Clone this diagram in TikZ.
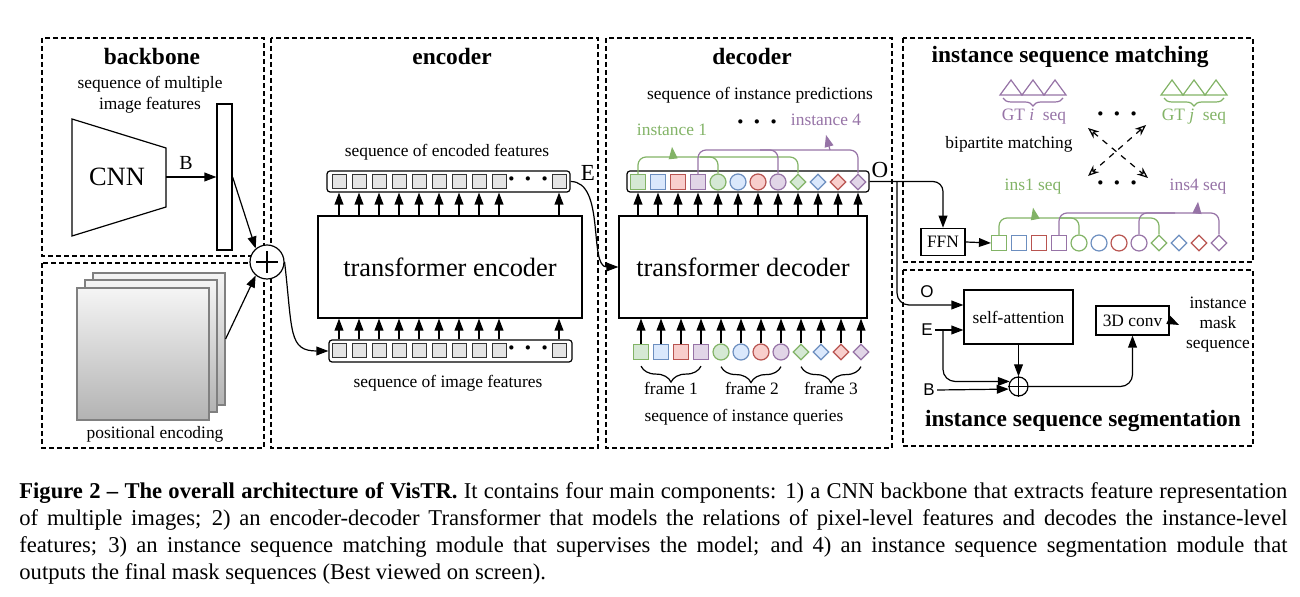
\documentclass[tikz,border=0pt]{standalone}
\usepackage{fontspec}
\setmainfont{Liberation Serif}
\setsansfont{Liberation Sans}
\usepackage{xcolor}
\usepackage{tikz}
\usetikzlibrary{shapes.geometric, arrows.meta, decorations.pathreplacing}
\definecolor{insgreen}{HTML}{82B366}
\definecolor{insgreenfill}{HTML}{D5E8D4}
\definecolor{insblue}{HTML}{6C8EBF}
\definecolor{insbluefill}{HTML}{DAE8FC}
\definecolor{insred}{HTML}{B85450}
\definecolor{insredfill}{HTML}{F8CECC}
\definecolor{inspurple}{HTML}{9673A6}
\definecolor{inspurplefill}{HTML}{E1D5E7}
\definecolor{featgray}{HTML}{E4E4E4}
\newcommand{\threedots}{\textbf{·\hspace{4pt}·\hspace{4pt}·}}

\begin{document}
\begin{tikzpicture}[
  x=0.5pt, y=-0.5pt,
  lbl/.style={font=\fontsize{8.7}{10.5}\selectfont},
  head/.style={font=\fontsize{11.7}{14}\selectfont\bfseries},
  big/.style={font=\fontsize{13.2}{15}\selectfont},
  sans/.style={font=\sffamily\fontsize{8.5}{10}\selectfont, inner sep=1pt},
  dots/.style={inner sep=0pt, font=\fontsize{13}{14}\selectfont},
  module/.style={draw, dash pattern=on 2.5pt off 1.5pt, line width=0.6pt},
  block/.style={draw, line width=0.6pt, inner sep=0pt, align=center},
  arr/.style={-{Triangle[length=6pt, width=4.4pt]}, line width=0.6pt},
  match/.style={dashed, line width=0.6pt, {Stealth[open, length=5.5pt, width=4.5pt]}-{Stealth[open, length=5.5pt, width=4.5pt]}},
  seqbar/.style={draw, rounded corners=1.5pt, line width=0.6pt, inner sep=0pt},
  feat/.style={draw=black!80, fill=featgray, minimum size=7pt, inner sep=0pt, line width=0.5pt},
  pesq/.style={draw=gray, top color=gray!8, bottom color=gray!60, minimum size=66pt, inner sep=0pt, line width=0.6pt},
  qsq/.style={rectangle, minimum size=7.5pt, inner sep=0pt, line width=0.6pt},
  qci/.style={circle, minimum size=8pt, inner sep=0pt, line width=0.6pt},
  qdi/.style={diamond, minimum size=8pt, inner sep=0pt, line width=0.6pt},
  fgr/.style={draw=insgreen, fill=insgreenfill},
  fbl/.style={draw=insblue, fill=insbluefill},
  fre/.style={draw=insred, fill=insredfill},
  fpu/.style={draw=inspurple, fill=inspurplefill},
  ogr/.style={draw=insgreen},
  obl/.style={draw=insblue},
  ore/.style={draw=insred},
  opu/.style={draw=inspurple},
  gline/.style={insgreen, line width=0.6pt, rounded corners=4pt},
  pline/.style={inspurple, line width=0.6pt, rounded corners=4pt},
]
  \useasboundingbox (0,0) rectangle (1300,597);

  % Modules
  \draw[module] (42,38) rectangle (264,256);
  \draw[module] (42,263) rectangle (264,448);
  \draw[module] (271,38) rectangle (598,448);
  \draw[module] (606,38) rectangle (892,448);
  \draw[module] (903,38) rectangle (1253,262);
  \draw[module] (903,270) rectangle (1253,446);

  % Backbone
  \node[head] (bbt) at (152,57) {backbone};
  \node[lbl, align=center] (bbf) at (150,95) {sequence of multiple\\image features};
  \draw[line width=0.6pt] (72,119) -- (166,148) -- (166,207) -- (72,236) -- cycle;
  \node[big] (cnn) at (117,177) {CNN};
  \coordinate (cnnout) at (166,177);
  \node[block, minimum width=7.5pt, minimum height=73pt] (fbar) at (224.5,177) {};
  \draw[arr] (cnnout) -- node[pos=0.4, above=3.5pt, inner sep=0pt, font=\fontsize{10}{12}\selectfont] {B} (fbar.west);

  % Positional encoding
  \node[pesq] (pe3) at (159,339) {};
  \node[pesq] (pe2) at (151,346) {};
  \node[pesq] (pe1) at (143,354) {};
  \node[lbl] (pet) at (155,434) {positional encoding};
  \node[draw, circle, fill=white, minimum size=17pt, inner sep=0pt, line width=0.6pt] (plus) at (267,262) {};
  \draw[line width=0.6pt] ([xshift=-5.5pt]plus.center) -- ([xshift=5.5pt]plus.center)
    ([yshift=-5.5pt]plus.center) -- ([yshift=5.5pt]plus.center);
  \draw[arr] (fbar.east) -- (plus.130);
  \draw[arr] (pe3.east) -- (plus.230);

  % Encoder
  \node[head] (enct) at (452,57) {encoder};
  \node[lbl] (encft) at (447,152) {sequence of encoded features};
  \node[seqbar, minimum width=121.5pt, minimum height=10.5pt] (encout) at (448.5,181.5) {};
  \foreach \k in {0,...,8} \node[feat] (e\k) at ({339+20*\k},182) {};
  \node[feat] (e9) at (559,182) {};
  \node[dots] (edots) at (528,182) {\threedots};
  \node[block, big, minimum width=132pt, minimum height=51pt] (encbox) at (450,267) {transformer encoder};
  \foreach \k in {0,...,9} \draw[arr] (e\k |- encbox.north) -- (e\k |- encout.south);
  \node[seqbar, minimum width=121.5pt, minimum height=11pt] (inseq) at (450.5,351) {};
  \foreach \k in {0,...,8} \node[feat] (i\k) at ({339+20*\k},351) {};
  \node[feat] (i9) at (559,351) {};
  \node[dots] (idots) at (528,351) {\threedots};
  \foreach \k in {0,...,9} \draw[arr] (i\k |- inseq.north) -- (i\k |- encbox.south);
  \node[lbl] (inft) at (448,383) {sequence of image features};
  \draw[arr] (plus.east) .. controls +(8,70) and +(-40,0) .. (inseq.west);

  % Decoder
  \node[head] (dect) at (752,57) {decoder};
  \node[lbl] (predt) at (760,95) {sequence of instance predictions};
  \node[lbl, text=insgreen] (inst1) at (672,130) {instance 1};
  \node[dots] (pdots) at (757,125) {\threedots};
  \node[lbl, text=inspurple] (inst4) at (826,120) {instance 4};
  \node[seqbar, minimum width=121pt, minimum height=10.5pt] (decout) at (748,181.5) {};
  \foreach \k/\s/\c in {0/qsq/fgr,1/qsq/fbl,2/qsq/fre,3/qsq/fpu,4/qci/fgr,5/qci/fbl,6/qci/fre,7/qci/fpu,8/qdi/fgr,9/qdi/fbl,10/qdi/fre,11/qdi/fpu}
    \node[\s, \c] (d\k) at ({638+20*\k},182) {};
  \node[block, big, minimum width=124pt, minimum height=51pt] (decbox) at (743,267) {transformer decoder};
  \foreach \k in {0,...,11} \draw[arr] (d\k |- decbox.north) -- (d\k |- decout.south);
  \foreach \k/\s/\c in {0/qsq/fgr,1/qsq/fbl,2/qsq/fre,3/qsq/fpu,4/qci/fgr,5/qci/fbl,6/qci/fre,7/qci/fpu,8/qdi/fgr,9/qdi/fbl,10/qdi/fre,11/qdi/fpu}
    \node[\s, \c] (q\k) at ({641+20*\k},352) {};
  \foreach \k in {0,...,11} \draw[arr] (q\k.north) -- (q\k |- decbox.south);
  \draw[line width=0.6pt, decorate, decoration={brace, mirror, amplitude=8pt}] ([yshift=-3pt]q0.south) -- ([yshift=-3pt]q3.south);
  \draw[line width=0.6pt, decorate, decoration={brace, mirror, amplitude=8pt}] ([yshift=-3pt]q4.south) -- ([yshift=-3pt]q7.south);
  \draw[line width=0.6pt, decorate, decoration={brace, mirror, amplitude=8pt}] ([yshift=-3pt]q8.south) -- ([yshift=-3pt]q11.south);
  \node[lbl] (fr1) at (671,388) {frame 1};
  \node[lbl] (fr2) at (752,388) {frame 2};
  \node[lbl] (fr3) at (831,388) {frame 3};
  \node[lbl] (qt) at (744,417) {sequence of instance queries};

  % Instance groups
  \coordinate (g1) at (673,157);
  \coordinate (p4) at (830,150);
  \draw[gline] (d0.north) |- (798,157) -- (d8.north);
  \draw[gline] (d4.north) |- (700,157);
  \draw[pline] (d3.north) |- (858,150) -- (d11.north);
  \draw[pline] (d7.north) |- (760,150);
  \draw[arr, insgreen] (g1) -- ([yshift=-2pt]inst1.south);
  \draw[arr, inspurple] (p4) -- ([yshift=-1pt]inst4.south);

  % E and O
  \node[font=\fontsize{11.5}{13}\selectfont] (elab) at (588,173) {E};
  \draw[arr] (encout.east) .. controls +(35,0) and +(-30,0) .. (decbox.west);
  \node[font=\fontsize{11.5}{13}\selectfont] (olab) at (880,170) {O};

  % Instance sequence matching
  \node[head] (mt) at (1070,57) {instance sequence matching};
  \foreach \cx in {1011,1033,1055}
    \draw[inspurple, line width=0.6pt] ({\cx-11},95) -- (\cx,80) -- ({\cx+11},95) -- cycle;
  \foreach \cx in {1172,1194,1216}
    \draw[insgreen, line width=0.6pt] ({\cx-11},95) -- (\cx,80) -- ({\cx+11},95) -- cycle;
  \draw[inspurple, line width=0.6pt, decorate, decoration={brace, mirror, amplitude=4pt}] (1003,98) -- (1063,98);
  \draw[insgreen, line width=0.6pt, decorate, decoration={brace, mirror, amplitude=4pt}] (1164,98) -- (1224,98);
  \node[lbl, text=inspurple] (gti) at (1034,117) {GT \textit{i}~ seq};
  \node[lbl, text=insgreen] (gtj) at (1194,117) {GT \textit{j}~ seq};
  \node[dots] (gdots) at (1117,117) {\threedots};
  \node[lbl] (bpm) at (1009,144) {bipartite matching};
  \coordinate (bx1) at (1088,128);
  \coordinate (bx2) at (1148,178);
  \coordinate (bx3) at (1146,125);
  \coordinate (bx4) at (1088,176);
  \draw[match] (bx1) -- (bx2);
  \draw[match] (bx3) -- (bx4);
  \node[lbl, text=insgreen] (ins1) at (1033,187) {ins1 seq};
  \node[dots] (sdots) at (1117,186) {\threedots};
  \node[lbl, text=inspurple] (ins4) at (1198,187) {ins4 seq};
  \node[block, lbl, minimum width=22pt, minimum height=13.5pt, line width=0.8pt] (ffn) at (943,242) {FFN};
  \draw[arr, rounded corners=5pt] (decout.east) -| (ffn.north);
  \foreach \k/\s/\c in {0/qsq/ogr,1/qsq/obl,2/qsq/ore,3/qsq/opu,4/qci/ogr,5/qci/obl,6/qci/ore,7/qci/opu,8/qdi/ogr,9/qdi/obl,10/qdi/ore,11/qdi/opu}
    \node[\s, \c] (m\k) at ({999+20*\k},243) {};
  \draw[arr] (ffn.east) -- (m0.west);
  \coordinate (g2) at (1035,218);
  \coordinate (p5) at (1197,213);
  \draw[gline] (m0.north) |- (1159,218) -- (m8.north);
  \draw[gline] (m4.north) |- (1060,218);
  \draw[pline] (m3.north) |- (1219,213) -- (m11.north);
  \draw[pline] (m7.north) |- (1175,213);
  \draw[arr, insgreen] (g2) -- ([yshift=-3pt]ins1.south);
  \draw[arr, inspurple] (p5) -- (ins4.south);

  % Instance sequence segmentation
  \node[head] (segt) at (1083,421) {instance sequence segmentation};
  \node[block, lbl, minimum width=54.5pt, minimum height=27pt] (sa) at (1018.5,317) {self-attention};
  \node[block, lbl, minimum width=36.5pt, minimum height=14.5pt] (conv) at (1132.5,320.5) {3D conv};
  \node[lbl, align=center, font=\fontsize{8.7}{10}\selectfont] (mout) at (1218,325) {instance\\mask\\sequence};
  \node[sans] (so) at (927,292) {O};
  \node[sans] (se) at (927,330) {E};
  \node[sans] (sb) at (929,390) {B};
  \node[draw, circle, fill=white, minimum size=9.5pt, inner sep=0pt, line width=0.6pt] (sum) at (1018.5,386.5) {};
  \draw[line width=0.6pt] (sum.north) -- (sum.south) (sum.west) -- (sum.east);
  \coordinate (obr) at (897,182);
  \draw[arr, rounded corners=6pt] (obr) |- ([yshift=6pt]sa.west);
  \draw[arr] (se.east) -- ([yshift=-6.5pt]sa.west);
  \coordinate (ebr) at (943,330);
  \draw[arr, rounded corners=6pt] (ebr) |- (sum.150);
  \draw[arr] (sb.east) -- (sum.195);
  \draw[arr] (sa.south) -- (sum.north);
  \draw[arr, rounded corners=6pt] (sum.east) -| (conv.south);
  \draw[arr] (conv.east) -- (mout.west);

  % Caption
  \node[anchor=north west, inner sep=0pt, align=left, font=\fontsize{11.3}{13.5}\selectfont] (cap) at (19,482)
    {\makebox[634pt][s]{\textbf{Figure 2 -- The overall architecture of VisTR.} It contains four main components: 1) a CNN backbone that extracts feature representation}\\
     \makebox[634pt][s]{of multiple images; 2) an encoder-decoder Transformer that models the relations of pixel-level features and decodes the instance-level}\\
     \makebox[634pt][s]{features; 3) an instance sequence matching module that supervises the model; and 4) an instance sequence segmentation module that}\\
     outputs the final mask sequences (Best viewed on screen).};
\end{tikzpicture}
\end{document}
